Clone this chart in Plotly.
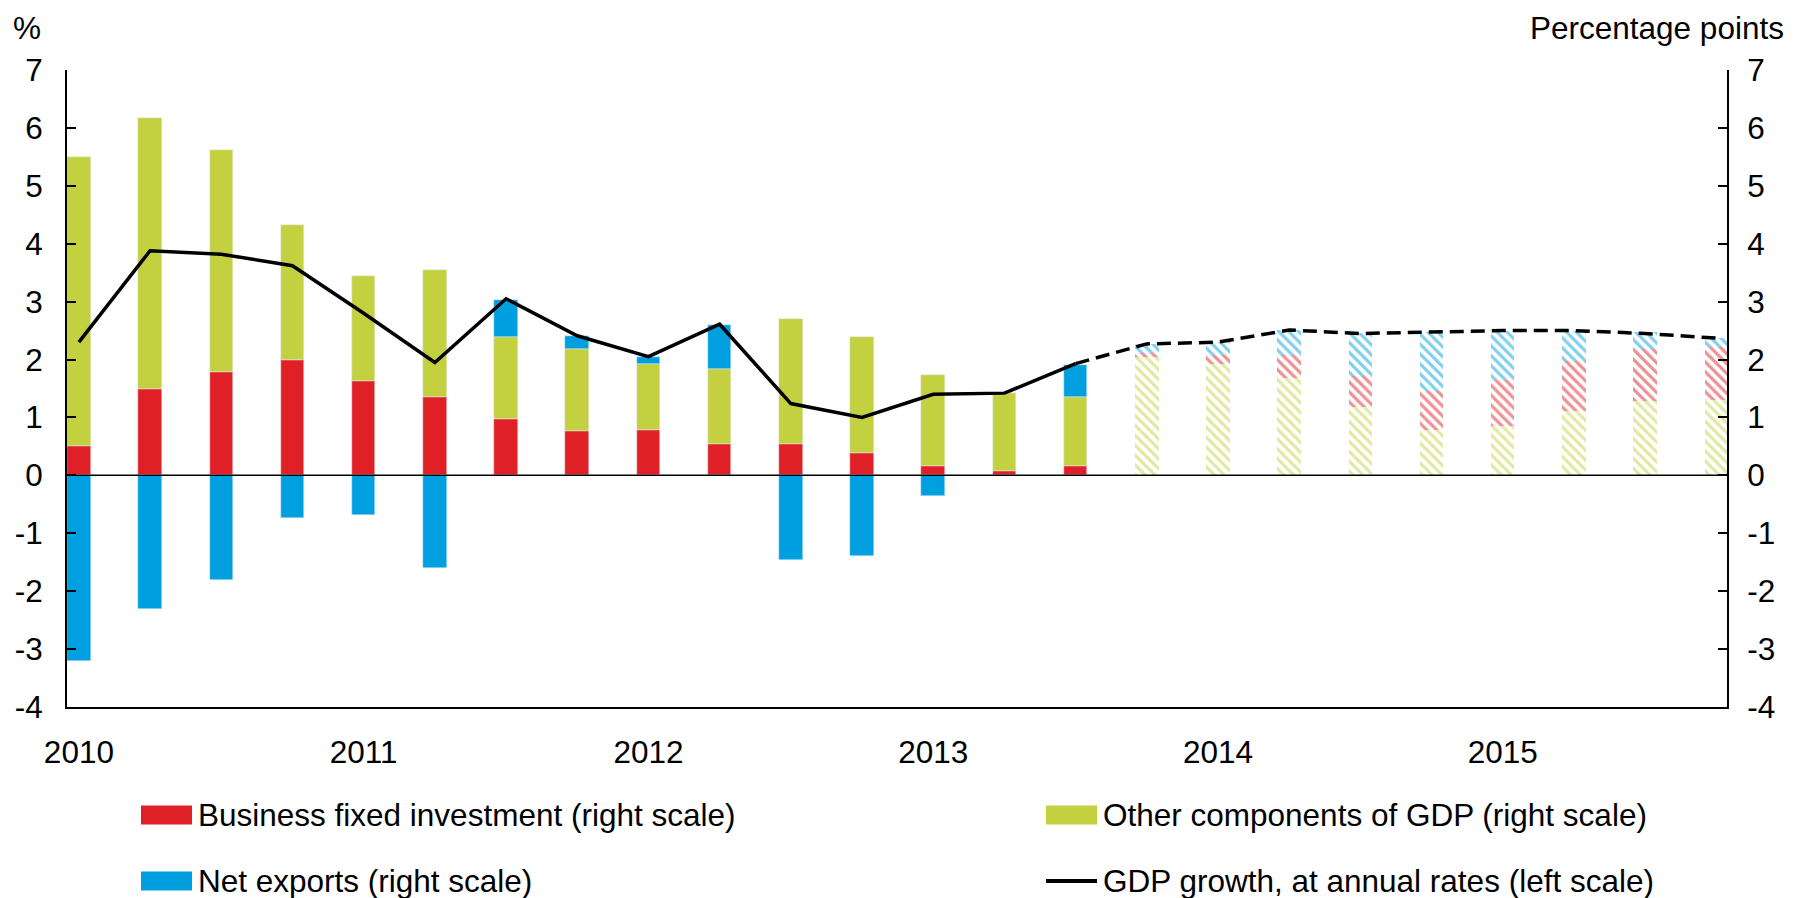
import plotly.graph_objects as go

# ---------------- data ----------------
quarters = ["2010Q1", "2010Q2", "2010Q3", "2010Q4",
            "2011Q1", "2011Q2", "2011Q3", "2011Q4",
            "2012Q1", "2012Q2", "2012Q3", "2012Q4",
            "2013Q1", "2013Q2", "2013Q3", "2013Q4",
            "2014Q1", "2014Q2", "2014Q3", "2014Q4",
            "2015Q1", "2015Q2", "2015Q3", "2015Q4"]
years = ["2010", "2011", "2012", "2013", "2014", "2015"]
y_ticks = [-4, -3, -2, -1, 0, 1, 2, 3, 4, 5, 6, 7]
n_hist = 15

# historical contributions (percentage points, right scale)
bfi_hist = [0.50, 1.49, 1.79, 2.00, 1.63, 1.36, 0.97, 0.76, 0.78, 0.55, 0.55, 0.39, 0.16, 0.08, 0.16]
other_hist = [5.00, 4.68, 3.82, 2.33, 1.82, 2.18, 1.42, 1.42, 1.14, 1.28, 2.15, 2.00, 1.57, 1.35, 1.20]
netx_hist = [-3.20, -2.31, -1.81, -0.73, -0.68, -1.60, 0.64, 0.23, 0.13, 0.77, -1.47, -1.40, -0.35, 0.00, 0.55]

# forecast contributions (hatched)
other_fc = [2.05, 1.93, 1.69, 1.18, 0.78, 0.86, 1.11, 1.29, 1.31]
bfi_fc = [0.07, 0.15, 0.39, 0.53, 0.67, 0.79, 0.87, 0.89, 0.91]
netx_fc = [0.15, 0.22, 0.43, 0.74, 1.03, 0.84, 0.51, 0.29, 0.15]

# GDP growth, annual rates (%, left scale)
gdp_hist = [2.30, 3.88, 3.82, 3.62, 2.80, 1.95, 3.05, 2.41, 2.05, 2.61, 1.24, 1.00, 1.40, 1.42, 1.93]
gdp_fc = [2.27, 2.30, 2.51, 2.45, 2.48, 2.50, 2.50, 2.45, 2.37]

# ---------------- style ----------------
RED = "#E02027"
GREEN = "#C3D141"
BLUE = "#009FDF"
FONT = "Liberation Sans, Arial, sans-serif"
FS = 31.5
BAR_W = 0.33

W, H = 1817, 898
L, R, T, B = 59, 1719, 62, 699  # plot area in figure pixels


def px_x(px):
    return (px - L) / (R - L)


def px_y(py):
    return (B - py) / (B - T)


x_all = list(range(len(quarters)))
x_hist = x_all[:n_hist]
x_fc = x_all[n_hist:]

fig = go.Figure()

# historical bars (solid) - bfi bottom, other, net exports on top
fig.add_bar(x=x_hist, y=bfi_hist, marker_color=RED, width=BAR_W, yaxis="y",
            name="Business fixed investment (right scale)", showlegend=False)
fig.add_bar(x=x_hist, y=other_hist, marker_color=GREEN, width=BAR_W, yaxis="y",
            name="Other components of GDP (right scale)", showlegend=False)
fig.add_bar(x=x_hist, y=netx_hist, marker_color=BLUE, width=BAR_W, yaxis="y",
            name="Net exports (right scale)", showlegend=False)

# forecast bars (hatched) - other bottom, bfi, net exports on top
for vals, col in [(other_fc, GREEN), (bfi_fc, RED), (netx_fc, BLUE)]:
    fig.add_bar(x=x_fc, y=vals, width=BAR_W, yaxis="y", showlegend=False,
                marker=dict(color="white", line=dict(width=0),
                            pattern=dict(shape="\\", fgcolor=col, bgcolor="white",
                                         size=7, solidity=0.45)))

# GDP growth line (left scale)
fig.add_scatter(x=x_hist, y=gdp_hist, mode="lines", yaxis="y2",
                line=dict(color="black", width=3.5), showlegend=False)
fig.add_scatter(x=[x_hist[-1]] + x_fc, y=[gdp_hist[-1]] + gdp_fc, mode="lines", yaxis="y2",
                line=dict(color="black", width=3.5, dash="14px,7px"), showlegend=False)

x_range = [-0.167, 23.15]
tick_start, tick_step = -0.167, 4.059
tick_marks = [tick_start + i * tick_step for i in range(len(years))]
y_text = [str(v) for v in y_ticks]

yax_common = dict(range=[-4, 7], tickvals=y_ticks, ticktext=y_text, ticks="inside",
                  ticklen=9, tickwidth=1.5, tickcolor="black", showline=True,
                  linecolor="black", linewidth=2, showgrid=False, zeroline=False,
                  automargin=False)

fig.update_layout(
    width=W, height=H,
    margin=dict(l=L, r=W - R, t=T, b=H - B, autoexpand=False),
    paper_bgcolor="white", plot_bgcolor="white",
    barmode="relative", bargap=0,
    font=dict(family=FONT, size=FS, color="black"),
    xaxis=dict(range=x_range, tickvals=x_all[::4], ticktext=years, ticks="",
               showline=True, linecolor="black", linewidth=2, showgrid=False,
               zeroline=False, ticklabelstandoff=16, anchor="y", automargin=False),
    xaxis2=dict(range=x_range, overlaying="x", anchor="y", tickvals=tick_marks,
                ticks="inside", ticklen=6, tickwidth=1.5, tickcolor="black",
                showticklabels=False, showline=False, showgrid=False, zeroline=False,
                automargin=False),
    yaxis=dict(side="right", ticklabelstandoff=12, **yax_common),
    yaxis2=dict(side="left", overlaying="y", ticklabelstandoff=16, **yax_common),
)

shapes = [dict(type="line", xref="paper", yref="y", x0=0, x1=1, y0=0, y1=0,
               line=dict(color="black", width=1.5), layer="above")]
annotations = [
    dict(text="%", x=px_x(3), y=px_y(0), xref="paper", yref="paper",
         xanchor="left", yanchor="top", showarrow=False),
    dict(text="Percentage points", x=px_x(1778), y=px_y(0), xref="paper", yref="paper",
         xanchor="right", yanchor="top", showarrow=False),
]

legend_items = [
    ("rect", RED, "Business fixed investment (right scale)", 133, 807),
    ("rect", GREEN, "Other components of GDP (right scale)", 1038, 807),
    ("rect", BLUE, "Net exports (right scale)", 133, 873),
    ("line", "black", "GDP growth, at annual rates (left scale)", 1038, 873),
]
for kind, col, label, x0, yc in legend_items:
    if kind == "rect":
        shapes.append(dict(type="rect", xref="paper", yref="paper",
                           x0=px_x(x0), x1=px_x(x0 + 51), y0=px_y(yc - 9.5), y1=px_y(yc + 9.5),
                           fillcolor=col, line=dict(width=0)))
    else:
        shapes.append(dict(type="line", xref="paper", yref="paper",
                           x0=px_x(x0), x1=px_x(x0 + 51), y0=px_y(yc), y1=px_y(yc),
                           line=dict(color=col, width=4)))
    annotations.append(dict(text=label, x=px_x(x0 + 55), y=px_y(yc), xref="paper", yref="paper",
                            xanchor="left", yanchor="middle", showarrow=False))

fig.update_layout(shapes=shapes, annotations=annotations)
fig.write_html("out.html")
